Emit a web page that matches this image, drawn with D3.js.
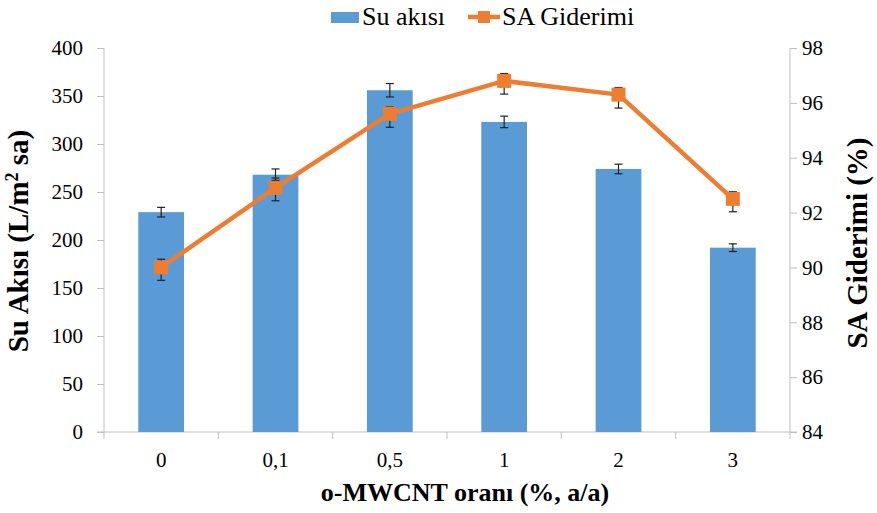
<html>
<head>
<meta charset="utf-8">
<title>Su akisi / SA Giderimi</title>
<script src="https://d3js.org/d3.v7.min.js"></script>
<style>
  body { margin: 0; background: #fff; }
</style>
</head>
<body>
<svg width="877" height="513"></svg>
<script>
var categories = ["0", "0,1", "0,5", "1", "2", "3"];
var suAkisi = [229, 268, 356, 323, 274, 192];
var suAkisiErr = [5, 6, 7, 6, 5, 4];
var saGiderimi = [90.0, 92.9, 95.6, 96.8, 96.3, 92.5];
var saErrUp = [0.3, 0.36, 0.25, 0.27, 0.26, 0.26];
var saErrDown = [0.47, 0.47, 0.49, 0.48, 0.49, 0.47];
var leftTicks = [0, 50, 100, 150, 200, 250, 300, 350, 400];
var rightTicks = [84, 86, 88, 90, 92, 94, 96, 98];

var svg = d3.select("svg"),
    margin = {top: 48, right: 87, bottom: 81, left: 104},
    width = 877 - margin.left - margin.right,
    height = 513 - margin.top - margin.bottom,
    g = svg.append("g").attr("transform", `translate(${margin.left},${margin.top})`);

var serif = '"Liberation Serif"';
var axisColor = "#bfbfbf", blue = "#5b9bd5", orange = "#ed7d31";

var x = d3.scaleBand().domain(categories).range([0, width]);
var yL = d3.scaleLinear().domain([0, 400]).range([height, 0]);
var yR = d3.scaleLinear().domain([84, 98]).range([height, 0]);

// axes
var axL = g.append("g").call(d3.axisLeft(yL).tickValues(leftTicks).tickSize(7).tickPadding(14));
var axR = g.append("g").attr("transform", `translate(${width},0)`)
  .call(d3.axisRight(yR).tickValues(rightTicks).tickSize(7).tickPadding(5));
var axB = g.append("g").attr("transform", `translate(0,${height})`)
  .call(d3.axisBottom(x).tickSize(0).tickPadding(20));

[axL, axR, axB].forEach(function(a) {
  a.selectAll(".domain").attr("stroke", axisColor).attr("stroke-width", 1);
  a.selectAll(".tick line").attr("stroke", axisColor);
  a.selectAll("text").attr("fill", "#000")
    .style("font-family", serif).style("font-size", "21px");
});
axL.select(".domain").attr("d", `M0,0V${height}`);
axR.select(".domain").attr("d", `M0,0V${height}`);
axB.select(".domain").attr("d", `M-7,0H${width + 7}`);

// x boundary ticks
g.append("g").selectAll("line")
  .data(d3.range(categories.length + 1))
  .join("line")
  .attr("x1", i => i * x.step()).attr("x2", i => i * x.step())
  .attr("y1", height).attr("y2", height + 7)
  .attr("stroke", axisColor);

// bars
var bw = x.bandwidth() * 0.4;
g.append("g").selectAll("rect")
  .data(suAkisi)
  .join("rect")
  .attr("x", (d, i) => x(categories[i]) + (x.bandwidth() - bw) / 2)
  .attr("y", d => yL(d))
  .attr("width", bw)
  .attr("height", d => height - yL(d))
  .attr("fill", blue);

// bar error bars
var eb = g.append("g").attr("stroke", "#222").attr("stroke-width", 1.2);
suAkisi.forEach(function(d, i) {
  var cx = x(categories[i]) + x.bandwidth() / 2;
  var y1 = yL(d + suAkisiErr[i]), y2 = yL(d - suAkisiErr[i]);
  eb.append("line").attr("x1", cx).attr("x2", cx).attr("y1", y1).attr("y2", y2);
  eb.append("line").attr("x1", cx - 4).attr("x2", cx + 4).attr("y1", y1).attr("y2", y1);
  eb.append("line").attr("x1", cx - 4).attr("x2", cx + 4).attr("y1", y2).attr("y2", y2);
});

// line
var line = d3.line()
  .x((d, i) => x(categories[i]) + x.bandwidth() / 2)
  .y(d => yR(d));
g.append("path")
  .datum(saGiderimi)
  .attr("d", line)
  .attr("fill", "none")
  .attr("stroke", orange)
  .attr("stroke-width", 4.5)
  .attr("stroke-linejoin", "round");

// line error bars
var el = g.append("g").attr("stroke", "#222").attr("stroke-width", 1.2);
saGiderimi.forEach(function(d, i) {
  var cx = x(categories[i]) + x.bandwidth() / 2;
  var y1 = yR(d + saErrUp[i]), y2 = yR(d - saErrDown[i]);
  el.append("line").attr("x1", cx).attr("x2", cx).attr("y1", y1).attr("y2", y2);
  el.append("line").attr("x1", cx - 4).attr("x2", cx + 4).attr("y1", y1).attr("y2", y1);
  el.append("line").attr("x1", cx - 4).attr("x2", cx + 4).attr("y1", y2).attr("y2", y2);
});

// markers
g.append("g").selectAll("rect")
  .data(saGiderimi)
  .join("rect")
  .attr("x", (d, i) => x(categories[i]) + x.bandwidth() / 2 - 7)
  .attr("y", d => yR(d) - 7)
  .attr("width", 14).attr("height", 14)
  .attr("fill", orange);

// axis titles
function title(sel, size) {
  return sel.attr("text-anchor", "middle")
    .style("font-family", serif).style("font-size", size + "px").style("font-weight", "bold");
}
svg.append("text").call(title, 29)
  .attr("transform", "translate(28,241) rotate(-90)")
  .html("Su Akısı (L/m<tspan dy='-10' style='font-size:18px'>2</tspan><tspan dy='10'> sa)</tspan>");

svg.append("text").call(title, 29)
  .attr("transform", "translate(867,243) rotate(-90)")
  .text("SA Giderimi (%)");

svg.append("text").call(title, 26)
  .attr("x", 465).attr("y", 501)
  .text("o-MWCNT oranı (%, a/a)");

// legend
var lg = svg.append("g");
lg.append("rect").attr("x", 331).attr("y", 12).attr("width", 28).attr("height", 11).attr("fill", blue);
lg.append("text").attr("x", 362).attr("y", 25)
  .style("font-family", serif).style("font-size", "26px").text("Su akısı");
lg.append("line").attr("x1", 468).attr("x2", 500).attr("y1", 17).attr("y2", 17)
  .attr("stroke", orange).attr("stroke-width", 4.5);
lg.append("rect").attr("x", 478).attr("y", 11).attr("width", 12).attr("height", 12).attr("fill", orange);
lg.append("text").attr("x", 502).attr("y", 25)
  .style("font-family", serif).style("font-size", "26px").text("SA Giderimi");
</script>
</body>
</html>
